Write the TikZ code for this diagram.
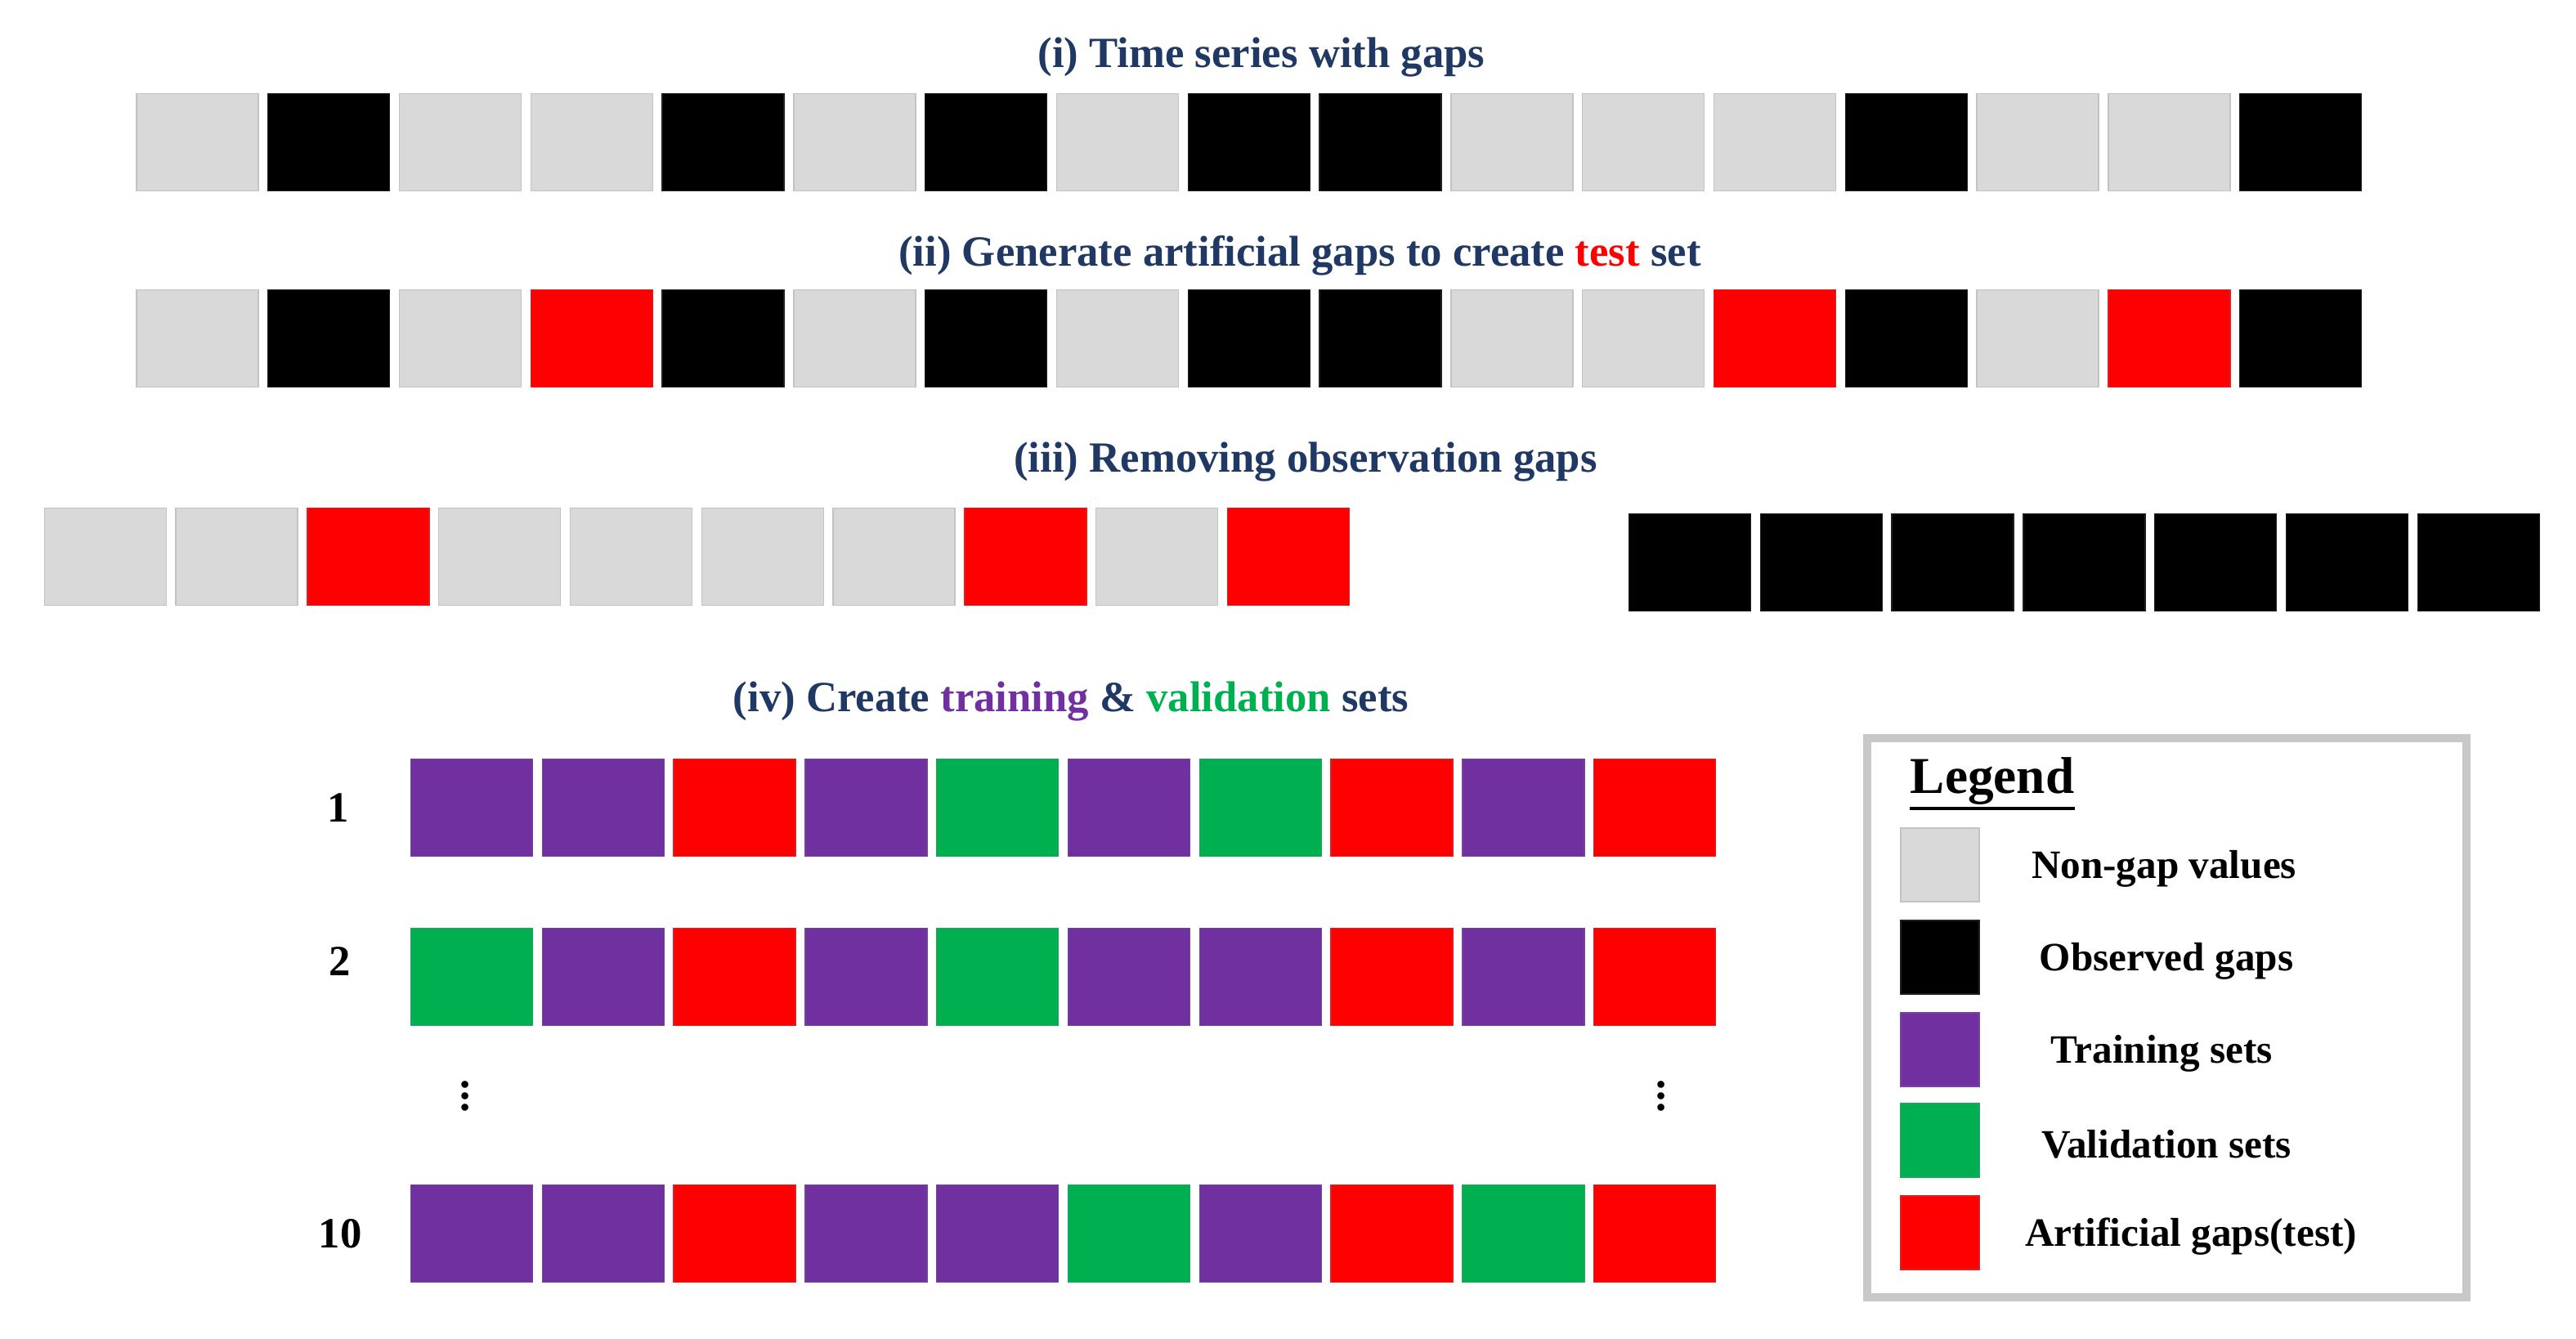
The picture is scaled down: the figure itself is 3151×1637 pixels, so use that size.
\documentclass[tikz,border=0pt]{standalone}
\usepackage{fontspec}
\setmainfont{Liberation Serif}
\usepackage{tikz}

\definecolor{nongap}{HTML}{D9D9D9}
\definecolor{obsgap}{HTML}{000000}
\definecolor{trainset}{HTML}{7030A0}
\definecolor{validset}{HTML}{00B050}
\definecolor{testgap}{HTML}{FF0000}
\definecolor{headblue}{HTML}{1F3864}
\definecolor{framegray}{HTML}{C8C8C8}

\begin{document}
\begin{tikzpicture}[x=0.1mm,y=-0.1mm,
    cell/.style={draw=#1!75!gray,fill=#1,line width=0.4pt,inner sep=0pt,
      minimum width=14.9mm,minimum height=11.9mm},
    keycell/.style={cell=#1,minimum width=9.6mm,minimum height=9mm},
    head/.style={font=\bfseries\fontsize{15}{18}\selectfont,text=headblue,inner sep=0pt},
    rowlabel/.style={font=\bfseries\fontsize{15}{18}\selectfont,inner sep=0pt},
    keytext/.style={font=\bfseries\fontsize{14}{17}\selectfont,inner sep=0pt}]
    \useasboundingbox (0,0) rectangle (3151,1637);

    % (i) Time series with gaps
    \node[head] (head1) at (1543,70) {(i) Time series with gaps};
    \foreach \c [count=\i] in {nongap,obsgap,nongap,nongap,obsgap,nongap,obsgap,nongap,
        obsgap,obsgap,nongap,nongap,nongap,obsgap,nongap,nongap,obsgap}
      \node[cell=\c] (a\i) at ({241.3+160.8*(\i-1)},174) {};

    % (ii) Artificial gaps
    \node[head] (head2) at (1590,313) {(ii) Generate artificial gaps to create \textcolor{testgap}{test} set};
    \foreach \c [count=\i] in {nongap,obsgap,nongap,testgap,obsgap,nongap,obsgap,nongap,
        obsgap,obsgap,nongap,nongap,testgap,obsgap,nongap,testgap,obsgap}
      \node[cell=\c] (b\i) at ({241.3+160.8*(\i-1)},414) {};

    % (iii) Removing observation gaps
    \node[head] (head3) at (1597,565) {(iii) Removing observation gaps};
    \foreach \c [count=\i] in {nongap,nongap,testgap,nongap,nongap,nongap,nongap,testgap,
        nongap,testgap}
      \node[cell=\c] (c\i) at ({128.8+160.8*(\i-1)},681) {};
    \foreach \i in {1,...,7}
      \node[cell=obsgap] (g\i) at ({2067+160.8*(\i-1)},688) {};

    % (iv) Training & validation sets
    \node[head] (head4) at (1310,858) {(iv) Create \textcolor{trainset}{training} \& \textcolor{validset}{validation} sets};
    \node[rowlabel] (k1) at (414,988) {1};
    \foreach \c [count=\i] in {trainset,trainset,testgap,trainset,validset,trainset,validset,
        testgap,trainset,testgap}
      \node[cell=\c] (d\i) at ({576.9+160.8*(\i-1)},988) {};
    \node[rowlabel] (k2) at (416,1176) {2};
    \foreach \c [count=\i] in {validset,trainset,testgap,trainset,validset,trainset,trainset,
        testgap,trainset,testgap}
      \node[cell=\c] (e\i) at ({576.9+160.8*(\i-1)},1195) {};
    \node[rowlabel] (dotsL) at (569,1330) {$\vdots$};
    \node[rowlabel] (dotsR) at (2032,1330) {$\vdots$};
    \node[rowlabel] (k10) at (416,1509) {10};
    \foreach \c [count=\i] in {trainset,trainset,testgap,trainset,trainset,validset,trainset,
        testgap,validset,testgap}
      \node[cell=\c] (f\i) at ({576.9+160.8*(\i-1)},1509) {};

    % Legend
    \draw[framegray,line width=1mm] (2284,903) rectangle (3017,1587);
    \node[font=\bfseries\fontsize{18}{21}\selectfont,inner sep=0pt] (keyhead) at (2437,956) {Legend};
    \draw[line width=1.3pt] ([yshift=-1pt]keyhead.south west) -- ([yshift=-1pt]keyhead.south east);
    \foreach \c/\t/\x/\y [count=\i] in {nongap/Non-gap values/2647/1058,
        obsgap/Observed gaps/2650/1171,trainset/Training sets/2644/1284,
        validset/Validation sets/2650/1395,testgap/Artificial gaps(test)/2680/1508}
    {
      \node[keycell=\c] (key\i) at (2373,\y) {};
      \node[keytext] (keytxt\i) at (\x,\y+5) {\t};
    }
\end{tikzpicture}
\end{document}
